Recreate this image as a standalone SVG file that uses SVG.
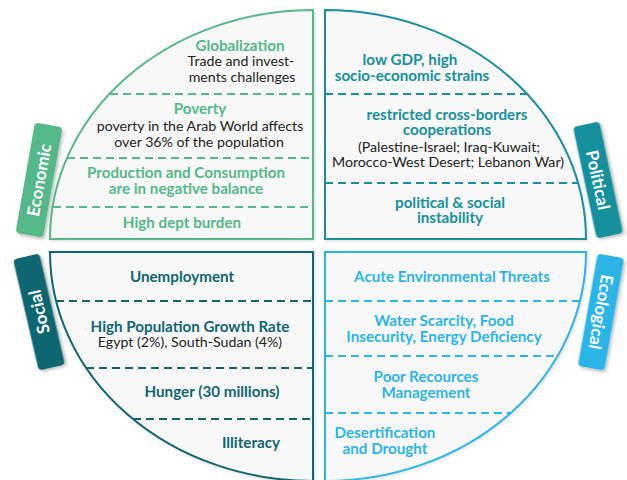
<svg xmlns="http://www.w3.org/2000/svg" width="627" height="480" viewBox="0 0 627 480">
<defs>
<filter id="sh" x="-20%" y="-20%" width="140%" height="140%"><feDropShadow dx="2" dy="2" stdDeviation="1.5" flood-color="#000" flood-opacity="0.25"/></filter>
<filter id="qs" x="-5%" y="-5%" width="110%" height="110%"><feDropShadow dx="1" dy="1" stdDeviation="1.5" flood-color="#000" flood-opacity="0.15"/></filter>
<style>
.q{fill:#f8f8f8;stroke-width:2}
.d{fill:none;stroke-width:2;stroke-dasharray:8 5}
text{font-family:Lato,"Liberation Sans",sans-serif;text-anchor:middle}
.h{font-weight:bold;font-size:15.2px}
.t{font-size:14.2px;fill:#222}
.tab{font-weight:bold;font-size:17px;fill:#fff}
.eco{stroke:#55b889}.ecof{fill:#55b889}
.pol{stroke:#17909c}.polf{fill:#17909c}
.soc{stroke:#0f6670}.socf{fill:#0f6670}
.ecl{stroke:#2bb5e6}.eclf{fill:#2bb5e6}
</style>
</defs>
<g id="economic">
<path class="q eco" filter="url(#qs)" d="M313,10 A263,229 0 0 0 50,239 L313,239 Z"/>
<line class="d eco" x1="110" y1="94" x2="313" y2="94"/>
<line class="d eco" x1="67" y1="158" x2="313" y2="158"/>
<line class="d eco" x1="53" y1="207" x2="313" y2="207"/>
<text class="h ecof" x="240" y="51">Globalization</text>
<text class="t" x="241" y="66">Trade and invest-</text>
<text class="t" x="242" y="82">ments challenges</text>
<text class="h ecof" x="200" y="114">Poverty</text>
<text class="t" x="200" y="131">poverty in the Arab World affects</text>
<text class="t" x="199" y="147">over 36% of the population</text>
<text class="h ecof" x="186" y="178">Production and Consumption</text>
<text class="h ecof" x="186" y="194">are in negative balance</text>
<text class="h ecof" x="182" y="228">High dept burden</text>
<g transform="translate(39,180) rotate(10)"><rect class="ecof" filter="url(#sh)" x="-14" y="-56" width="28" height="112" rx="4"/></g>
<text class="tab" transform="translate(39,180) rotate(-80)" dy="0.36em">Economic</text>
</g>
<g id="political">
<path class="q pol" filter="url(#qs)" d="M325,10 A261,229 0 0 1 586,239 L325,239 Z"/>
<line class="d pol" x1="325" y1="94" x2="527" y2="94"/>
<line class="d pol" x1="325" y1="183" x2="578" y2="183"/>
<text class="h polf" x="410" y="65">low GDP, high</text>
<text class="h polf" x="412" y="81">socio-economic strains</text>
<text class="h polf" x="447" y="120">restricted cross-borders</text>
<text class="h polf" x="447" y="135">cooperations</text>
<text class="t" x="449" y="152">(Palestine-Israel; Iraq-Kuwait;</text>
<text class="t" x="448" y="167">Morocco-West Desert; Lebanon War)</text>
<text class="h polf" x="450" y="208">political &amp; social</text>
<text class="h polf" x="450" y="223">instability</text>
<g transform="translate(598,180) rotate(-12)"><rect class="polf" filter="url(#sh)" x="-13.5" y="-57" width="27" height="114" rx="4"/></g>
<text class="tab" transform="translate(598,180) rotate(78)" dy="0.36em">Political</text>
</g>
<g id="social">
<path class="q soc" filter="url(#qs)" d="M50,252 A263,229 0 0 0 313,481 L313,252 Z"/>
<line class="d soc" x1="56" y1="301" x2="313" y2="301"/>
<line class="d soc" x1="86" y1="368" x2="313" y2="368"/>
<line class="d soc" x1="133" y1="419" x2="313" y2="419"/>
<text class="h socf" x="182" y="282">Unemployment</text>
<text class="h socf" x="190" y="332">High Population Growth Rate</text>
<text class="t" x="190" y="347">Egypt (2%), South-Sudan (4%)</text>
<text class="h socf" x="212" y="397">Hunger (30 millions)</text>
<text class="h socf" x="251" y="448">Illiteracy</text>
<g transform="translate(39,312) rotate(-13)"><rect class="socf" filter="url(#sh)" x="-13.5" y="-57" width="27" height="114" rx="4"/></g>
<text class="tab" transform="translate(39,312) rotate(-103)" dy="0.36em">Social</text>
</g>
<g id="ecological">
<path class="q ecl" filter="url(#qs)" d="M586,252 A261,229 0 0 1 325,481 L325,252 Z"/>
<line class="d ecl" x1="325" y1="301" x2="580" y2="301"/>
<line class="d ecl" x1="325" y1="356" x2="558" y2="356"/>
<line class="d ecl" x1="325" y1="413" x2="511" y2="413"/>
<text class="h eclf" x="452" y="282">Acute Environmental Threats</text>
<text class="h eclf" x="444" y="326">Water Scarcity, Food</text>
<text class="h eclf" x="444" y="342">Insecurity, Energy Deficiency</text>
<text class="h eclf" x="426" y="382">Poor Recources</text>
<text class="h eclf" x="426" y="398">Management</text>
<text class="h eclf" x="385" y="438">Desertification</text>
<text class="h eclf" x="385" y="454">and Drought</text>
<g transform="translate(601,312) rotate(10)"><rect class="eclf" filter="url(#sh)" x="-13.5" y="-57" width="27" height="114" rx="4"/></g>
<text class="tab" transform="translate(601,312) rotate(100)" dy="0.36em">Ecological</text>
</g>
<g id="connectors"/>
</svg>
